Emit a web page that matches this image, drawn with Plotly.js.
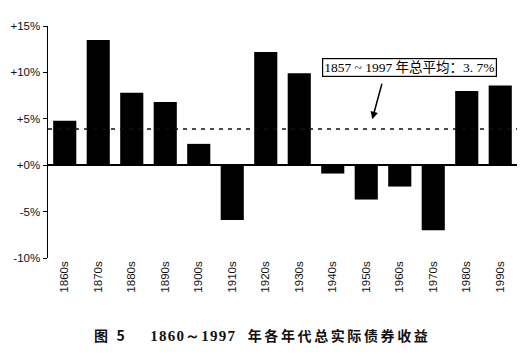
<!DOCTYPE html>
<html><head><meta charset="utf-8">
<script src="https://cdn.plot.ly/plotly-3.0.1.min.js"></script>
<style>html,body{margin:0;padding:0;background:#fff}
.annotation[data-index="2"] text{letter-spacing:2.6px}</style>
</head><body><div id="chart" style="width:532px;height:360px"></div>
<script>
const decades = ["1860s","1870s","1880s","1890s","1900s","1910s","1920s","1930s","1940s","1950s","1960s","1970s","1980s","1990s"];
const realReturns = [4.8, 13.5, 7.8, 6.8, 2.3, -5.9, 12.2, 9.9, -0.9, -3.7, -2.3, -7.0, 8.0, 8.6];
const averageLevel = 3.9;
const yTickVals = [15, 10, 5, 0, -5, -10];
const yTickText = ["+15%", "+10%", "+5%", "+0%", "-5%", "-10%"];
const annotationText = "1857 ~ 1997 年总平均：3. 7%";
const captionFig = "图 5";
const captionYears = "1860～1997";
const captionRest = "年各年代总实际债券收益";

const traces = [
  {type: "bar", x: decades, y: realReturns, marker: {color: "#000"}, width: 0.69, hoverinfo: "none"},
  {type: "scatter", mode: "lines", x: [-0.5, decades.length - 0.5], y: [averageLevel, averageLevel],
   line: {color: "#111", width: 1.5, dash: "4px,5px"}, xaxis: "x2", hoverinfo: "none"}
];

const layout = {
  width: 532, height: 360,
  margin: {l: 48, r: 15, t: 26, b: 102},
  paper_bgcolor: "#fff", plot_bgcolor: "#fff",
  showlegend: false,
  bargap: 0.31,
  font: {family: "Liberation Sans, Arial, sans-serif", color: "#000"},
  xaxis: {
    type: "category", showgrid: false, showline: false, zeroline: false,
    ticks: "", tickangle: -90, tickfont: {size: 11.5, color: "#111"},
    range: [-0.5, decades.length - 0.5]
  },
  xaxis2: {overlaying: "x", range: [-0.5, decades.length - 0.5], visible: false},
  yaxis: {
    range: [-10, 15], tickvals: yTickVals, ticktext: yTickText,
    showgrid: false, showline: true, linecolor: "#000", linewidth: 1.5,
    ticks: "outside", ticklen: 4, tickcolor: "#000", tickwidth: 1,
    zeroline: true, zerolinecolor: "#000", zerolinewidth: 1.5,
    tickfont: {size: 11.5, color: "#111"}
  },
  annotations: [
    {x: 9.18, y: 4.96, ax: 9.48, ay: 8.94, axref: "x", ayref: "y", xref: "x", yref: "y",
     showarrow: true, arrowhead: 2, arrowsize: 1, arrowwidth: 1.5, arrowcolor: "#000",
     text: "", standoff: 0},
    {x: 10.28, y: 10.5, xref: "x", yref: "y", xanchor: "center", yanchor: "middle",
     text: annotationText, showarrow: false,
     font: {family: "Liberation Serif, Noto Sans CJK SC, serif", size: 13.5, color: "#000"},
     bordercolor: "#000", borderwidth: 1.2, borderpad: 1, bgcolor: "#fff"},
    {x: 262, y: 335, xref: "paper", yref: "paper", xanchor: "center", yanchor: "middle",
     text: "<b>" + captionFig + "    <span style=\"font-family:'Liberation Serif',serif;font-size:15px;letter-spacing:1.2px\">" + captionYears + "</span>  " + captionRest + "</b>",
     showarrow: false,
     font: {family: "Noto Sans CJK SC, sans-serif", size: 14, color: "#111"}}
  ]
};
// convert caption pixel position to paper coordinates
(function(){
  const cap = layout.annotations[2];
  const pw = layout.width - layout.margin.l - layout.margin.r;
  const ph = layout.height - layout.margin.t - layout.margin.b;
  cap.x = (cap.x - layout.margin.l) / pw;
  cap.y = (layout.height - layout.margin.b - cap.y) / ph;
})();

Plotly.newPlot("chart", traces, layout, {staticPlot: true, displayModeBar: false});
</script></body></html>
